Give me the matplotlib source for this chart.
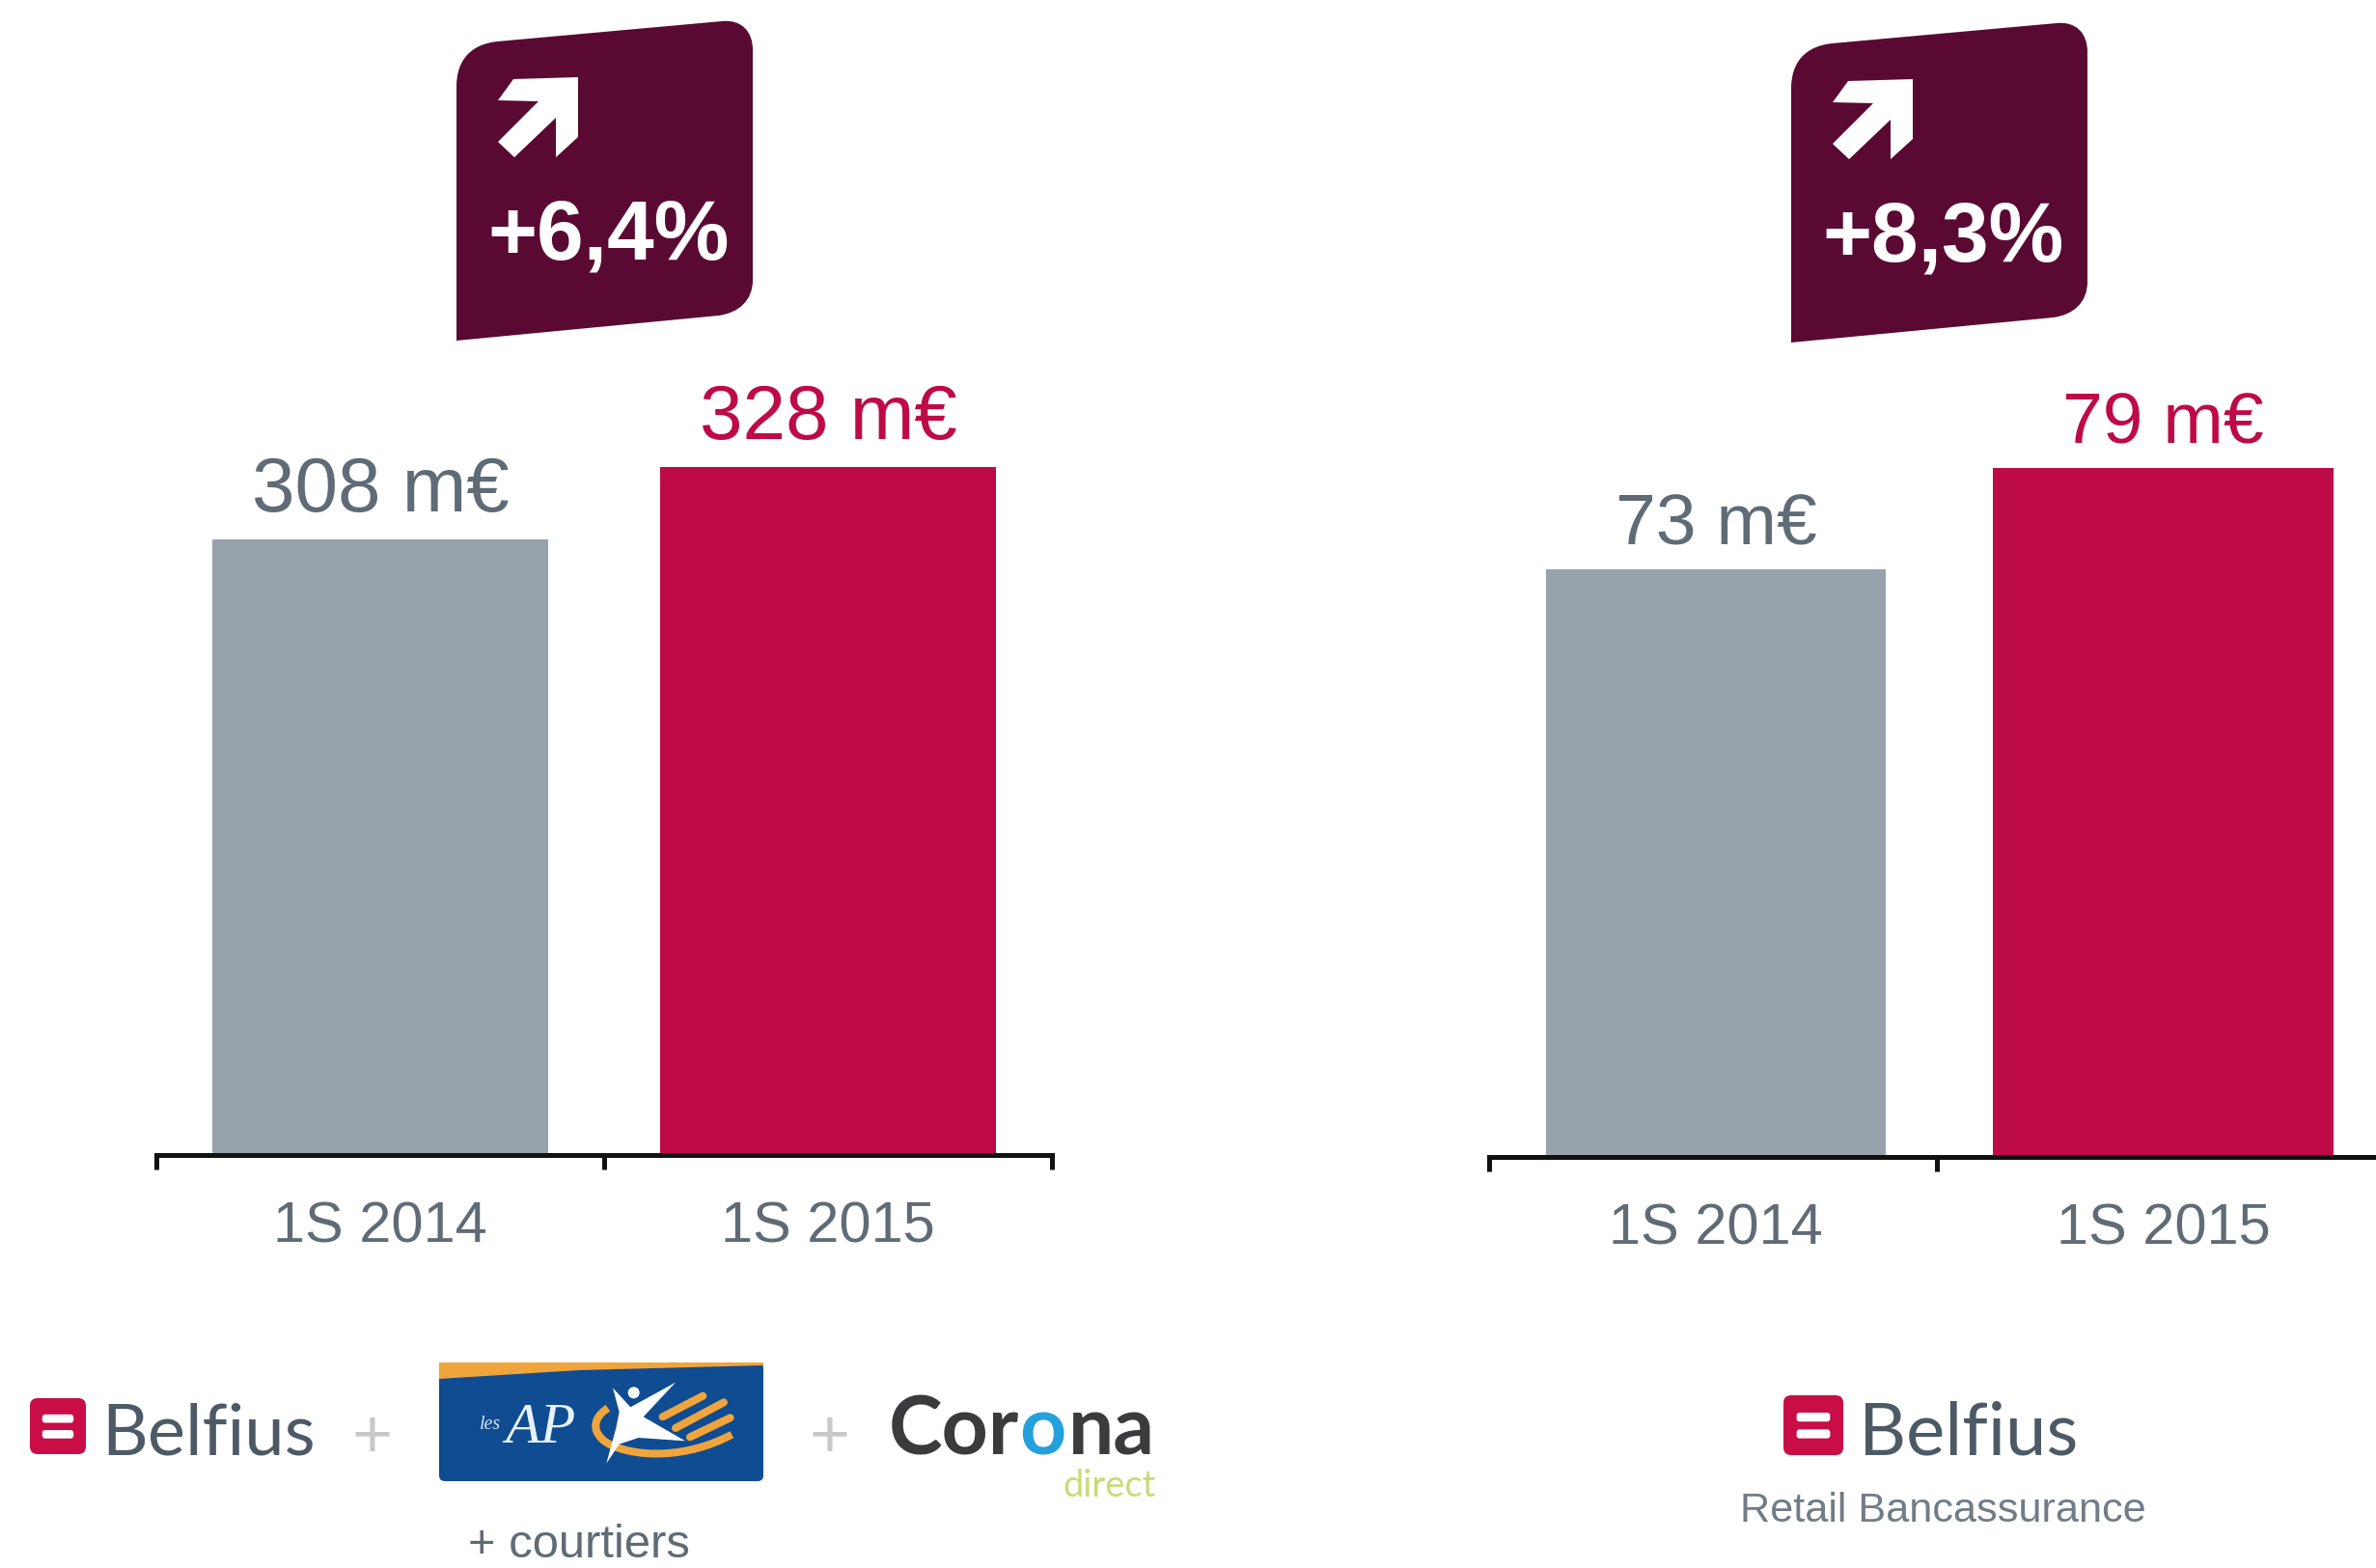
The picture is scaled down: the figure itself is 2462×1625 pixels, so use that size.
import matplotlib
matplotlib.use('Agg')
import matplotlib.pyplot as plt
from matplotlib.patches import PathPatch, Polygon, Circle, FancyBboxPatch
from matplotlib.path import Path

plt.rcParams['font.family'] = ['Liberation Sans', 'DejaVu Sans']

# Donnees
periods = ['1S 2014', '1S 2015']
values_left = [308, 328]
values_right = [73, 79]
growth_left = '+6,4%'
growth_right = '+8,3%'

GREY = '#98a2ac'
RED = '#be0a46'
TEXT_GREY = '#5f6b75'
BADGE = '#5a0a32'

W, H = 2462, 1625
fig = plt.figure(figsize=(W / 100, H / 100), dpi=100, facecolor='white')


def px(size):
    # pixels vers points
    return size * 0.72


def panel(x0, x1, y_base, y_top, ymin, values, width, label_size, gap, offset=0.0):
    ax = fig.add_axes([x0 / W, 1 - y_base / H, (x1 - x0) / W, (y_base - y_top) / H])
    centers = [0 + offset, 1 + offset]
    ax.bar(centers, values, width=width, color=[GREY, RED], zorder=1)
    ax.set_xlim(-0.5, 1.5)
    ax.set_ylim(ymin, max(values))
    ax.patch.set_alpha(0)
    for side in ['top', 'left', 'right']:
        ax.spines[side].set_visible(False)
    ax.spines['bottom'].set_linewidth(px(5))
    ax.spines['bottom'].set_color('#111111')
    ax.spines['bottom'].set_zorder(3)
    ax.set_yticks([])
    ax.set_xticks([-0.5, 0.5, 1.5])
    ax.set_xticklabels([])
    ax.tick_params(axis='x', which='major', length=px(15), width=px(5), color='#111111')
    ax.set_xticks(centers, minor=True)
    ax.set_xticklabels(periods, minor=True, fontsize=px(59.5), color=TEXT_GREY)
    ax.tick_params(axis='x', which='minor', length=0, pad=px(47))
    for c, v, col in zip(centers, values, [TEXT_GREY, RED]):
        ax.annotate(f'{v} m€', (c, v), xytext=(0, px(gap)), textcoords='offset points',
                    ha='center', va='baseline', fontsize=px(label_size),
                    color=col, annotation_clip=False)
    return ax


panel(162, 1090, 1197, 484, 137.9, values_left, 0.75, 80, 29)
panel(1543, 2470, 1199, 485, 38.2, values_right, 0.76, 75, 25, offset=0.007)

# Calque en pixels pour les badges et les logos
ov = fig.add_axes([0, 0, 1, 1], zorder=5)
ov.set_xlim(0, W)
ov.set_ylim(H, 0)
ov.axis('off')


def badge(dx, dy, text):
    verts = [(473, 353), (473, 90), (473, 62), (488, 46), (515, 43), (748, 22), (768, 20), (780, 32),
             (780, 52), (780, 290), (780, 312), (765, 324), (745, 327), (473, 353)]
    codes = [Path.MOVETO, Path.LINETO, Path.CURVE4, Path.CURVE4, Path.CURVE4, Path.LINETO,
             Path.CURVE4, Path.CURVE4, Path.CURVE4, Path.LINETO, Path.CURVE4, Path.CURVE4, Path.CURVE4,
             Path.CLOSEPOLY]
    ov.add_patch(PathPatch(Path([(x + dx, y + dy) for x, y in verts], codes), fc=BADGE, ec='none'))
    arrow = [(532, 82), (599, 80), (599, 142), (576, 163), (576, 122), (533, 163), (516, 147),
             (558, 105), (516, 104)]
    ov.add_patch(Polygon([(x + dx, y + dy) for x, y in arrow], fc='white', ec='none'))
    ov.text(631 + dx, 268 + dy, text, ha='center', va='baseline', fontsize=px(87.5),
            fontweight='bold', color='white')


badge(0, 0, growth_left)
badge(1383, 2, growth_right)


def belfius(x_sq, y_sq, size, x_txt, font_px, base):
    ov.add_patch(FancyBboxPatch((x_sq + 6, y_sq + 6), size - 12, size - 12,
                                boxstyle='round,pad=6,rounding_size=8', fc='#c90d47', ec='none'))
    h = size * 0.15
    for frac in [0.29, 0.57]:
        ov.add_patch(FancyBboxPatch((x_sq + size * 0.22, y_sq + size * frac), size * 0.56, h,
                                    boxstyle='round,pad=0,rounding_size=3', fc='white', ec='none'))
    ov.text(x_txt, base, 'Belfius', ha='left', va='baseline', fontsize=px(font_px),
            family=['Lato', 'Liberation Sans'], color='#4d5a66')


belfius(31, 1449, 58, 105, 74, 1507)
belfius(1848, 1446, 62, 1926, 76, 1507)

ov.text(2013, 1577, 'Retail Bancassurance', ha='center', va='baseline', fontsize=px(43.3), color='#717c86')
ov.text(600, 1614, '+ courtiers', ha='center', va='baseline', fontsize=px(49), color=TEXT_GREY)

# Signes plus
for x in [385, 860]:
    ov.text(x, 1510, '+', ha='center', va='baseline', fontsize=px(72), color='#c6c8ca')

# Logo AP
ov.add_patch(FancyBboxPatch((459, 1416), 328, 115, boxstyle='round,pad=4,rounding_size=6', fc='#0f4c92', ec='none'))
ov.add_patch(Polygon([(455, 1412), (791, 1412), (791, 1415), (600, 1420), (455, 1429)], fc='#f0a53c', ec='none'))
ov.text(560, 1495, 'AP', ha='center', va='baseline', fontsize=px(60), family='Liberation Serif',
        style='italic', color='#e8f2fb')
ov.text(508, 1481, 'les', ha='center', va='baseline', fontsize=px(20), family='Liberation Serif',
        style='italic', color='#d5e2f0')


def ap(pts):
    return [(445 + x / 3, 1400 + y / 3) for x, y in pts]


for a, b in [((725, 205), (850, 140)), ((765, 240), (915, 160)), ((810, 268), (935, 208))]:
    xs, ys = zip(*ap([a, b]))
    ov.plot(xs, ys, color='#f0a53c', lw=px(8), solid_capstyle='round')
arc = ap([(555, 178), (495, 215), (510, 270), (570, 295), (650, 330), (800, 335), (940, 260)])
ov.add_patch(PathPatch(Path(arc, [Path.MOVETO] + [Path.CURVE4] * 6), fc='none', ec='#f0a53c', lw=px(8)))
star = ap([(570, 115), (625, 175), (765, 98), (665, 205), (795, 280), (650, 270), (590, 290), (550, 350),
           (580, 240), (590, 190)])
ov.add_patch(Polygon(star, fc='white', ec='none'))
hx, hy = ap([(635, 130)])[0]
ov.add_patch(Circle((hx, hy), 6, fc='white', ec='none'))

# Logo Corona
corona = dict(va='baseline', fontsize=px(84), family=['Lato', 'Liberation Sans'], fontweight='bold')
ov.text(1056, 1508, 'Cor', ha='right', color='#3b3a3c', **corona)
ov.text(1080, 1508, 'o', ha='center', color='#25a0dc', **corona)
ov.text(1107, 1508, 'na', ha='left', color='#3b3a3c', **corona)
ov.text(1198, 1551, 'direct', ha='right', va='baseline', fontsize=px(38),
        family=['Lato', 'Liberation Sans'], color='#c9da78')

fig.savefig('out.png', dpi=100, facecolor='white')
